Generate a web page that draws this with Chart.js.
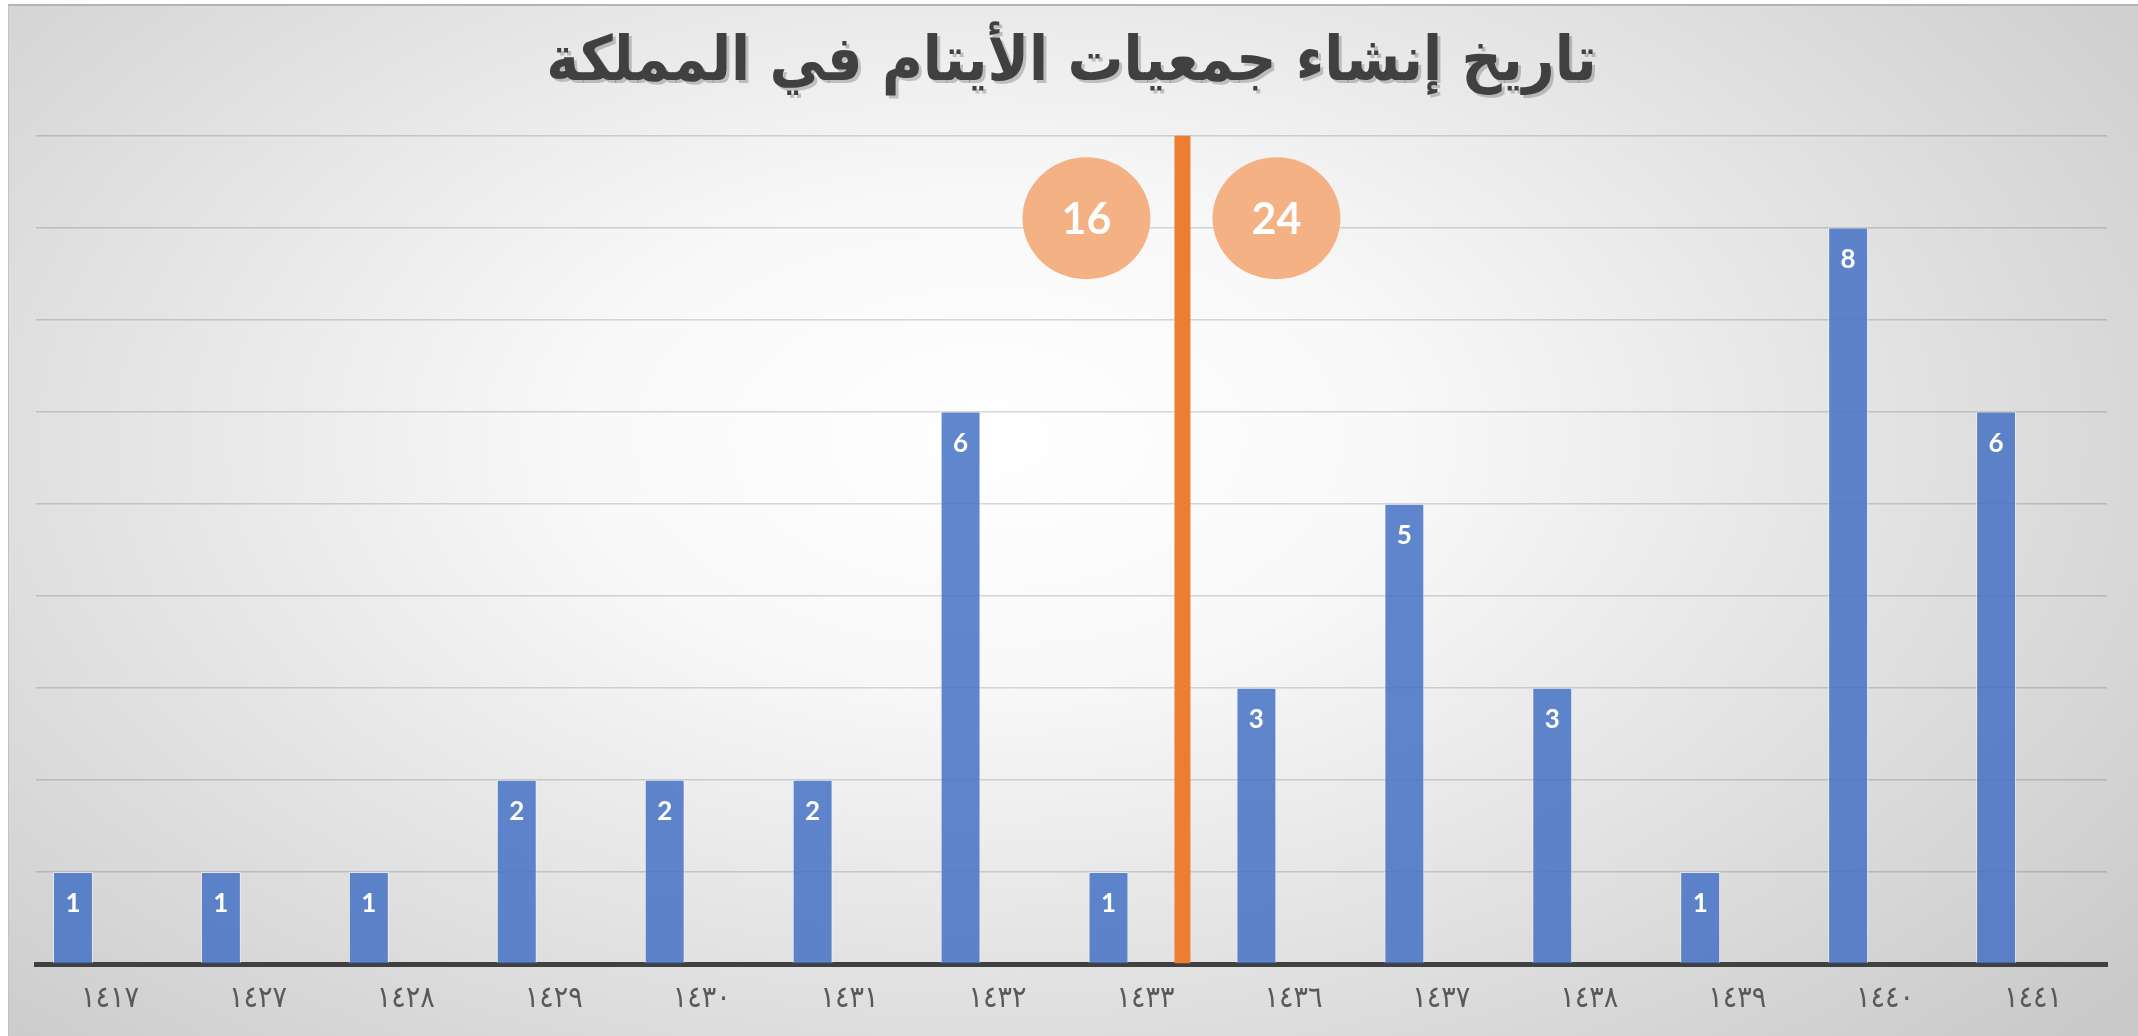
<!DOCTYPE html>
<html lang="ar">
<head>
<meta charset="utf-8">
<script src="https://cdn.jsdelivr.net/npm/chart.js@4.4.1/dist/chart.umd.min.js"></script>
<style>
    html, body { margin: 0; padding: 0; width: 2138px; height: 1036px; overflow: hidden; background: #fff; }
    #panel {
        position: absolute; left: 8px; top: 4px; right: 0; bottom: 0;
        border-top: 2px solid #b4b4b4; border-left: 1px solid #c2c2c2;
        background: radial-gradient(ellipse 70% 85% at 46% 42%, #ffffff 0%, #f8f8f8 28%, #e3e3e3 60%, #c9c9c9 100%);
    }
    #chart { position: absolute; left: 0; top: 0; }
</style>
</head>
<body>
<div id="panel"></div>
<canvas id="chart" width="2138" height="1036"></canvas>
<script>
// Данные
const years = ['١٤١٧', '١٤٢٧', '١٤٢٨', '١٤٢٩', '١٤٣٠', '١٤٣١', '١٤٣٢', '١٤٣٣', '١٤٣٦', '١٤٣٧', '١٤٣٨', '١٤٣٩', '١٤٤٠', '١٤٤١'];
const counts = [1, 1, 1, 2, 2, 2, 6, 1, 3, 5, 3, 1, 8, 6];
const divider = [null, null, null, null, null, null, null, 9, null, null, null, null, null, null];
const totals = [16, 24];
const yMax = 9;

const titleText = 'تاريخ إنشاء جمعيات الأيتام في المملكة';
const titleFont = { family: 'DejaVu Sans Condensed', size: 62, weight: 'bold', lineHeight: 1.2 };
const titlePad = { top: 27, bottom: 34 };

// Тень заголовка
const titleShadow = {
    id: 'titleShadow',
    beforeDraw(chart) {
        const t = chart.titleBlock;
        const ctx = chart.ctx;
        ctx.save();
        ctx.font = `bold ${titleFont.size}px "${titleFont.family}"`;
        ctx.fillStyle = 'rgba(0, 0, 0, 0.2)';
        ctx.textAlign = 'center';
        ctx.textBaseline = 'middle';
        const y = t.top + titlePad.top + titleFont.size * titleFont.lineHeight / 2;
        ctx.fillText(titleText, (t.left + t.right) / 2 + 3, y + 3);
        ctx.restore();
    }
};

// Подписи значений на столбцах
const barLabels = {
    id: 'barLabels',
    afterDatasetsDraw(chart) {
        const ctx = chart.ctx;
        ctx.save();
        ctx.fillStyle = '#ffffff';
        ctx.font = 'bold 26px Lato';
        ctx.textAlign = 'center';
        ctx.textBaseline = 'middle';
        chart.getDatasetMeta(0).data.forEach((bar, i) => {
            ctx.fillText(counts[i], bar.x, bar.y + 32);
        });
        ctx.restore();
    }
};

// Кружки с итогами по обе стороны линии
const totalBadges = {
    id: 'totalBadges',
    afterDatasetsDraw(chart) {
        const ctx = chart.ctx;
        const line = chart.getDatasetMeta(1).data[divider.findIndex(v => v !== null)];
        const y = chart.scales.y.getPixelForValue(8.1);
        [-96, 94].forEach((dx, i) => {
            ctx.save();
            ctx.beginPath();
            ctx.ellipse(line.x + dx, y, 64, 61, 0, 0, Math.PI * 2);
            ctx.fillStyle = '#F4B183';
            ctx.fill();
            ctx.fillStyle = '#ffffff';
            ctx.font = 'bold 43px Lato';
            ctx.textAlign = 'center';
            ctx.textBaseline = 'middle';
            ctx.fillText(totals[i], line.x + dx, y + 2);
            ctx.restore();
        });
    }
};

new Chart(document.getElementById('chart'), {
    type: 'bar',
    data: {
        labels: years,
        datasets: [{
            data: counts,
            backgroundColor: 'rgba(68, 114, 196, 0.85)',
            borderColor: 'rgba(255, 255, 255, 0.45)',
            borderWidth: 1,
            barPercentage: 0.54,
            categoryPercentage: 1.0
        }, {
            data: divider,
            backgroundColor: '#ED7D31',
            borderWidth: 0,
            barPercentage: 0.216,
            categoryPercentage: 1.0
        }]
    },
    options: {
        responsive: false,
        animation: false,
        layout: { padding: { left: 36, right: 31, top: 0, bottom: 0 } },
        plugins: {
            legend: { display: false },
            tooltip: { enabled: false },
            title: {
                display: true,
                text: titleText,
                color: '#404040',
                font: titleFont,
                padding: titlePad
            }
        },
        scales: {
            x: {
                grid: { display: false, drawTicks: false },
                border: { display: true, color: '#404040', width: 5 },
                ticks: {
                    color: '#595959',
                    font: { family: 'DejaVu Sans Condensed', size: 30 },
                    padding: 17,
                    maxRotation: 0
                },
                afterFit(scale) { scale.height = 72; }
            },
            y: {
                min: 0,
                max: yMax,
                ticks: { display: false, stepSize: 1 },
                border: { display: false },
                grid: { color: 'rgba(0, 0, 0, 0.15)', lineWidth: 1.5, drawTicks: false },
                afterFit(scale) { scale.width = 0; }
            }
        }
    },
    plugins: [titleShadow, barLabels, totalBadges]
});
</script>
</body>
</html>
